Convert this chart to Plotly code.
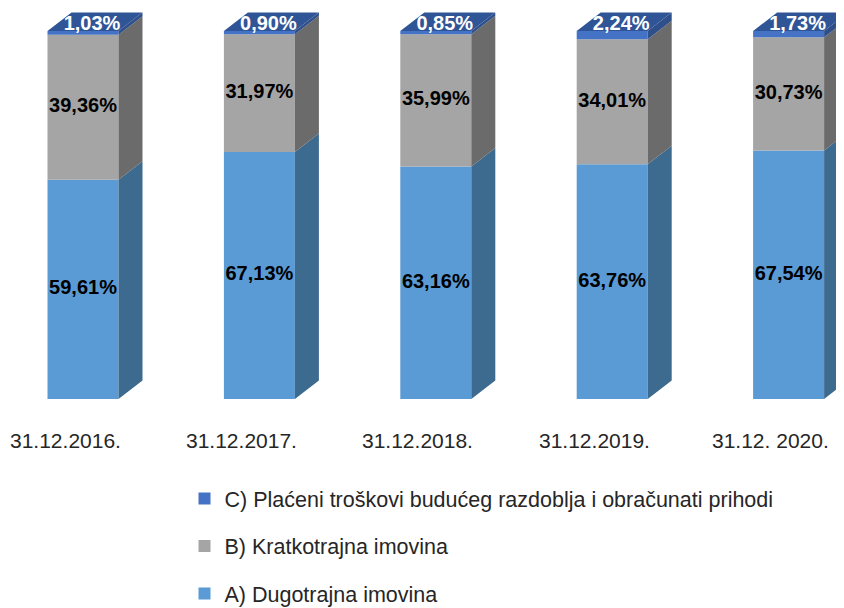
import plotly.graph_objects as go

# ---- data ----
categories = ["31.12.2016.", "31.12.2017.", "31.12.2018.", "31.12.2019.", "31.12. 2020."]
series_names = [
    "A) Dugotrajna imovina",
    "B) Kratkotrajna imovina",
    "C) Plaćeni troškovi budućeg razdoblja i obračunati prihodi",
]
a_values = [59.61, 67.13, 63.16, 63.76, 67.54]
b_values = [39.36, 31.97, 35.99, 34.01, 30.73]
c_values = [1.03, 0.90, 0.85, 2.24, 1.73]
label_a = ["59,61%", "67,13%", "63,16%", "63,76%", "67,54%"]
label_b = ["39,36%", "31,97%", "35,99%", "34,01%", "30,73%"]
label_c = ["1,03%", "0,90%", "0,85%", "2,24%", "1,73%"]

# ---- styling ----
front_colors = ["#5B9BD5", "#A5A5A5", "#4472C4"]
side_colors = ["#3D6A8F", "#6B6B6B", "#2F4F8A"]
top_color = "#2F5597"
text_colors = ["#000000", "#000000", "#FFFFFF"]

# figure geometry (page body has an 8px margin)
W, H = 836, 650
px_per_cat = 176.4
px_per_unit = 3.68
x_center0 = 75.0
plot_h = 391.0
margin_b = H - plot_h

bar_w = 71 / px_per_cat
dx = 24 / px_per_cat
dy = 18.5 / px_per_unit

xs = list(range(len(categories)))
series = [a_values, b_values, c_values]
labels = [label_a, label_b, label_c]

fig = go.Figure()

bases = [0.0] * len(xs)
for si, vals in enumerate(series):
    fig.add_trace(go.Bar(
        x=xs, y=vals, base=bases, width=bar_w,
        marker=dict(color=front_colors[si], line=dict(width=0)),
        name=series_names[si], legendgroup=series_names[si],
        legendrank=3 - si, hoverinfo="skip",
    ))
    # side faces
    sx, sy = [], []
    for i, v in enumerate(vals):
        x1 = xs[i] + bar_w / 2
        b0 = bases[i]
        t0 = bases[i] + v
        sx += [x1, x1 + dx, x1 + dx, x1, x1, None]
        sy += [b0, b0 + dy, t0 + dy, t0, b0, None]
    fig.add_trace(go.Scatter(
        x=sx, y=sy, mode="lines", fill="toself",
        fillcolor=side_colors[si], line=dict(width=0, color=side_colors[si]),
        showlegend=False, hoverinfo="skip",
    ))
    bases = [bases[i] + v for i, v in enumerate(vals)]

# top faces
tx, ty = [], []
for i in xs:
    x0 = xs[i] - bar_w / 2
    x1 = xs[i] + bar_w / 2
    t = bases[i]
    tx += [x0, x1, x1 + dx, x0 + dx, x0, None]
    ty += [t, t, t + dy, t + dy, t, None]
fig.add_trace(go.Scatter(
    x=tx, y=ty, mode="lines", fill="toself", fillcolor=top_color,
    line=dict(width=0, color=top_color), showlegend=False, hoverinfo="skip",
))

# data labels
cum = [0.0] * len(xs)
for si, vals in enumerate(series):
    lx, ly = [], []
    for i, v in enumerate(vals):
        if si < 2:
            lx.append(xs[i])
            ly.append(cum[i] + v / 2)
        else:
            lx.append(xs[i] + dx / 2 - 3 / px_per_cat)
            ly.append(cum[i] + v + dy / 2 - 3 / px_per_unit)
    fig.add_trace(go.Scatter(
        x=lx, y=ly, mode="text", text=labels[si],
        textfont=dict(family="Liberation Sans", size=20, color=text_colors[si], weight="bold"),
        textposition="middle center", showlegend=False, hoverinfo="skip",
    ))
    cum = [cum[i] + v for i, v in enumerate(vals)]

# category labels
for i, cat in enumerate(categories):
    fig.add_annotation(
        x=xs[i] - 18 / px_per_cat, y=0, xref="x", yref="y", text=cat,
        showarrow=False, yshift=-41,
        font=dict(family="Liberation Sans", size=21, color="#262626"),
    )

x_lo = -x_center0 / px_per_cat
x_hi = (W - x_center0) / px_per_cat
y_hi = plot_h / px_per_unit

fig.update_layout(
    width=W, height=H,
    margin=dict(l=0, r=0, t=0, b=margin_b),
    paper_bgcolor="white", plot_bgcolor="white",
    barmode="overlay",
    xaxis=dict(range=[x_lo, x_hi], visible=False, fixedrange=True),
    yaxis=dict(range=[0, y_hi], visible=False, fixedrange=True),
    showlegend=True,
    legend=dict(
        x=176.5 / W, xanchor="left",
        y=(plot_h - 470) / plot_h, yanchor="top",
        traceorder="grouped", tracegroupgap=16.5,
        font=dict(family="Liberation Sans", size=21.5, color="#262626"),
        bgcolor="rgba(0,0,0,0)",
    ),
)

fig.write_html("out.html")
